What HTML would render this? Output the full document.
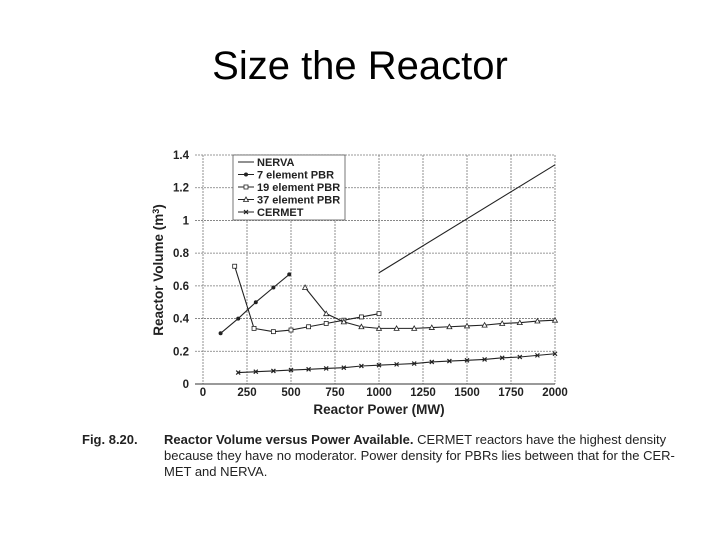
<!DOCTYPE html>
<html><head><meta charset="utf-8"><style>
body{margin:0;width:720px;height:540px;background:#fff;overflow:hidden;font-family:"Liberation Sans",sans-serif}
#title{position:absolute;left:0;width:720px;top:44px;text-align:center;font-size:40px;color:#000}
#cap{position:absolute;left:82px;top:432px;font-size:13px;line-height:16px;color:#222}
</style></head><body>
<div id="title">Size the Reactor</div>
<svg id="chart" width="720" height="540" style="position:absolute;left:0;top:0"></svg>
<div id="cap"><b style="margin-right:24px">Fig. 8.20.</b><span style="position:absolute;left:82px;width:560px;top:0;white-space:nowrap"><b>Reactor Volume versus Power Available.</b> CERMET reactors have the highest density<br>because they have no moderator. Power density for PBRs lies between that for the CER-<br>MET and NERVA.</span></div>
<script>
const xTicks=[0,250,500,750,1000,1250,1500,1750,2000];
const yTicks=[0,0.2,0.4,0.6,0.8,1,1.2,1.4];
const nervaX=[1000,2000], nervaY=[0.68,1.34];
const pbr7X=[100,200,300,400,490], pbr7Y=[0.31,0.40,0.50,0.59,0.67];
const pbr19X=[180,290,400,500,600,700,800,900,1000], pbr19Y=[0.72,0.34,0.32,0.33,0.35,0.37,0.39,0.41,0.43];
const pbr37X=[580,700,800,900,1000,1100,1200,1300,1400,1500,1600,1700,1800,1900,2000];
const pbr37Y=[0.59,0.43,0.38,0.35,0.34,0.34,0.34,0.345,0.35,0.355,0.36,0.37,0.375,0.385,0.39];
const cermetX=[200,300,400,500,600,700,800,900,1000,1100,1200,1300,1400,1500,1600,1700,1800,1900,2000];
const cermetY=[0.07,0.075,0.08,0.085,0.09,0.095,0.10,0.11,0.115,0.12,0.125,0.135,0.14,0.145,0.15,0.16,0.165,0.175,0.185];
const svg=document.getElementById('chart'),NS='http://www.w3.org/2000/svg';
const X0=203,X1=555,Y0=384,Y1=155;
const sx=v=>X0+(v/2000)*(X1-X0), sy=v=>Y0-(v/1.4)*(Y0-Y1);
function el(t,a,p){const e=document.createElementNS(NS,t);for(const k in a)e.setAttribute(k,a[k]);(p||svg).appendChild(e);return e;}
const grid=el('g',{});


xTicks.forEach(t=>{el('line',{x1:sx(t),x2:sx(t),y1:Y1,y2:Y0,stroke:'#777','stroke-width':0.8,'stroke-dasharray':'2,1'},grid);
 const l=el('text',{x:sx(t),y:Y0+12,'text-anchor':'middle','font-size':11.5,'font-weight':'bold',fill:'#222'});l.textContent=t;
 
 });
yTicks.forEach(t=>{el('line',{x1:X0-8,x2:X1,y1:sy(t),y2:sy(t),stroke:'#777','stroke-width':0.8,'stroke-dasharray':'2,1'},grid);
 const l=el('text',{x:X0-14,y:sy(t)+4,'text-anchor':'end','font-size':11.5,'font-weight':'bold',fill:'#222'});l.textContent=t;
 
 });
el('line',{x1:X0-8,x2:X1,y1:Y0,y2:Y0,stroke:'#333','stroke-width':1});
const xt=el('text',{x:379,y:414,'text-anchor':'middle','font-size':13.5,'font-weight':'bold',fill:'#222'});xt.textContent='Reactor Power (MW)';


const yt=el('text',{x:0,y:0,'text-anchor':'middle','font-size':13.5,'font-weight':'bold',fill:'#222',transform:'translate(163,270) rotate(-90)'});
yt.innerHTML='Reactor Volume (m<tspan dy="-4" font-size="9">3</tspan><tspan dy="4">)</tspan>';


function marker(g,type,x,y){
 if(type==='dot')el('circle',{cx:x,cy:y,r:2,fill:'#222'},g);
 else if(type==='sq')el('rect',{x:x-2,y:y-2,width:4,height:4,fill:'#fff',stroke:'#222','stroke-width':0.8},g);
 else if(type==='tri')el('path',{d:`M${x},${y-2.5}L${x+2.5},${y+2}L${x-2.5},${y+2}Z`,fill:'#fff',stroke:'#222','stroke-width':0.8},g);
 else if(type==='x')el('path',{d:`M${x-2},${y-2}L${x+2},${y+2}M${x+2},${y-2}L${x-2},${y+2}`,stroke:'#222','stroke-width':1.2},g);
}
function series(name,xs,ys,type){
 const g=el('g',{});
 
 
 el('polyline',{points:xs.map((v,i)=>sx(v)+','+sy(ys[i])).join(' '),fill:'none',stroke:'#222','stroke-width':1.1},g);
 if(type)xs.forEach((v,i)=>marker(g,type,sx(v),sy(ys[i])));
}
series('series-nerva',nervaX,nervaY,null);
series('series-7-element-pbr',pbr7X,pbr7Y,'dot');
series('series-19-element-pbr',pbr19X,pbr19Y,'sq');
series('series-37-element-pbr',pbr37X,pbr37Y,'tri');
series('series-cermet',cermetX,cermetY,'x');
const lg=el('g',{});


el('rect',{x:233,y:155,width:112,height:65,fill:'#fff',stroke:'#555','stroke-width':0.8},lg);
[['NERVA',null],['7 element PBR','dot'],['19 element PBR','sq'],['37 element PBR','tri'],['CERMET','x']].forEach((e,i)=>{
 const y=162+i*12.5;
 el('line',{x1:238,x2:254,y1:y,y2:y,stroke:'#222','stroke-width':1},lg);
 if(e[1])marker(lg,e[1],246,y);
 const t=el('text',{x:257,y:y+4,'font-size':11,'font-weight':'bold',fill:'#222'},lg);t.textContent=e[0];
 
 
});
</script>
</body></html>
